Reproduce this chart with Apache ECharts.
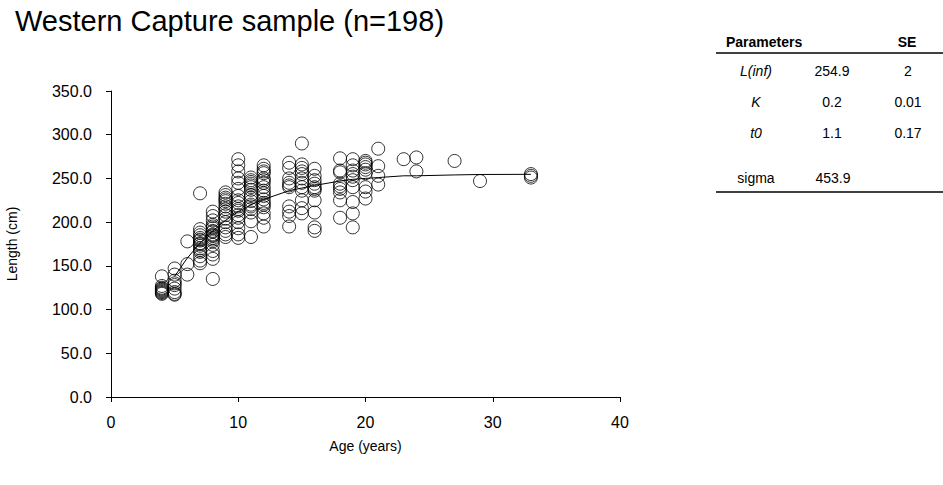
<!DOCTYPE html>
<html>
<head>
<meta charset="utf-8">
<script src="https://cdn.jsdelivr.net/npm/echarts@6/dist/echarts.min.js"></script>
<style>
html,body{margin:0;padding:0;background:#fff;}
#chart{width:943px;height:485px;}
</style>
</head>
<body>
<div id="chart"></div>
<script>
// ---- data ----
var title = 'Western Capture sample (n=198)';
var xTicks = [0, 10, 20, 30, 40];
var yTicks = [0, 50, 100, 150, 200, 250, 300, 350];

// observed lengths by age (cm)
var obsAges = [4, 5, 6, 7, 8, 9, 10, 11, 12, 14, 15, 16, 18, 19, 20, 21, 23, 24, 27, 29, 33];
var obsLengths = [
  [138, 127, 124, 122, 120, 118, 125, 121, 119, 123],
  [147, 140, 133, 128, 124, 120, 117, 130, 118],
  [178, 152, 140],
  [233, 192, 188, 185, 182, 179, 176, 173, 170, 166, 161, 156, 153, 180, 175, 168],
  [212, 207, 202, 197, 193, 189, 186, 184, 182, 178, 174, 167, 163, 158, 135, 195, 190, 185, 180],
  [234, 231, 228, 224, 221, 215, 212, 208, 204, 194, 190, 186, 183, 226, 218, 200],
  [272, 265, 258, 250, 245, 238, 230, 222, 218, 213, 208, 200, 193, 186, 182, 225, 215, 205],
  [251, 248, 244, 240, 237, 231, 224, 220, 215, 211, 201, 183, 246, 242, 228, 218],
  [265, 261, 256, 250, 245, 240, 236, 230, 226, 222, 217, 210, 205, 195, 258, 248, 233, 220],
  [268, 262, 250, 245, 242, 218, 212, 207, 195, 240],
  [290, 266, 262, 258, 250, 245, 240, 236, 225, 216, 210, 255],
  [261, 253, 248, 244, 240, 236, 225, 211, 194, 190, 238],
  [273, 259, 257, 244, 238, 234, 225, 205, 241],
  [272, 265, 259, 252, 248, 240, 223, 210, 194, 255],
  [270, 266, 263, 260, 256, 240, 235, 227, 268],
  [284, 264, 253, 243],
  [272],
  [274, 258],
  [270],
  [247],
  [255, 253, 251]
];

// fitted growth curve
var fitAges = [5, 6, 7, 8, 9, 10, 11, 12, 14, 15, 16, 18, 19, 20, 21, 23, 24, 27, 29, 33];
var fitLengths = [138, 159, 176, 190, 202, 212, 220, 226, 236, 239, 242, 247, 249, 250, 251, 253, 253, 254, 254.5, 254.7];

// parameter table
var tableHeader = ['Parameters', 'SE'];
var paramNames = ['L(inf)', 'K', 't0'];
var paramValues = ['254.9', '0.2', '1.1'];
var paramSE = ['2', '0.01', '0.17'];
var sigmaLabel = 'sigma';
var sigmaValue = '453.9';

// ---- build ----
var scatterData = [];
obsAges.forEach(function (a, i) {
  obsLengths[i].forEach(function (v) { scatterData.push([a, v]); });
});
var lineData = fitAges.map(function (a, i) { return [a, fitLengths[i]]; });

var FONT = 'Liberation Sans, Arial, sans-serif';
var graphics = [];
function txt(t, x, y, align, style, weight) {
  graphics.push({
    type: 'text',
    style: {
      text: t, x: x, y: y,
      textAlign: align, align: align,
      textVerticalAlign: 'middle', verticalAlign: 'middle',
      font: (style || 'normal') + ' ' + (weight || 'normal') + ' 14px ' + FONT,
      fill: '#000'
    }
  });
}
function hline(x1, x2, y) {
  graphics.push({
    type: 'line',
    shape: { x1: x1, y1: y, x2: x2, y2: y },
    style: { stroke: '#000', lineWidth: 1.3 }
  });
}
txt(tableHeader[0], 726, 42, 'left', 'normal', 'bold');
txt(tableHeader[1], 907, 42, 'center', 'normal', 'bold');
hline(716, 943, 53);
var rowY = [71, 102, 133];
paramNames.forEach(function (n, i) {
  txt(n, 756, rowY[i], 'center', 'italic');
  txt(paramValues[i], 832, rowY[i], 'center');
  txt(paramSE[i], 908, rowY[i], 'center');
});
txt(sigmaLabel, 756, 178, 'center');
txt(sigmaValue, 833, 178, 'center');
hline(716, 943, 192);

var chart = echarts.init(document.getElementById('chart'), null, { renderer: 'svg' });
chart.setOption({
  animation: false,
  backgroundColor: '#fff',
  title: {
    text: title, left: 10, top: 1,
    textStyle: { fontFamily: FONT, fontSize: 29, fontWeight: 'normal', color: '#000' }
  },
  grid: { left: 111, right: 323, top: 91, bottom: 88, containLabel: false, outerBoundsMode: 'none' },
  xAxis: {
    type: 'value', min: xTicks[0], max: xTicks[xTicks.length - 1], interval: 10,
    name: 'Age (years)', nameLocation: 'middle', nameGap: 42,
    nameTextStyle: { fontFamily: FONT, fontSize: 14, color: '#000' },
    axisLine: { show: true, onZero: false, lineStyle: { color: '#000', width: 1 } },
    axisTick: { show: true, inside: false, length: 5, lineStyle: { color: '#000' } },
    axisLabel: { margin: 17, fontFamily: FONT, fontSize: 16, color: '#000' },
    splitLine: { show: false }
  },
  yAxis: {
    type: 'value', min: yTicks[0], max: yTicks[yTicks.length - 1], interval: 50,
    name: 'Length (cm)', nameLocation: 'middle', nameGap: 92, nameRotate: 90,
    nameTextStyle: { fontFamily: FONT, fontSize: 14, color: '#000' },
    axisLine: { show: true, onZero: false, lineStyle: { color: '#000', width: 1 } },
    axisTick: { show: true, inside: false, length: 5, lineStyle: { color: '#000' } },
    axisLabel: {
      margin: 19, fontFamily: FONT, fontSize: 16, color: '#000',
      formatter: function (v) { return v.toFixed(1); }
    },
    splitLine: { show: false }
  },
  series: [
    {
      type: 'line', data: lineData, showSymbol: false, symbol: 'none',
      lineStyle: { color: '#000', width: 1 }, z: 3, silent: true
    },
    {
      type: 'scatter', data: scatterData, symbol: 'circle', symbolSize: 13,
      itemStyle: { color: 'rgba(0,0,0,0)', borderColor: '#000', borderWidth: 1 },
      z: 2, silent: true
    }
  ],
  graphic: graphics
});
</script>
</body>
</html>
